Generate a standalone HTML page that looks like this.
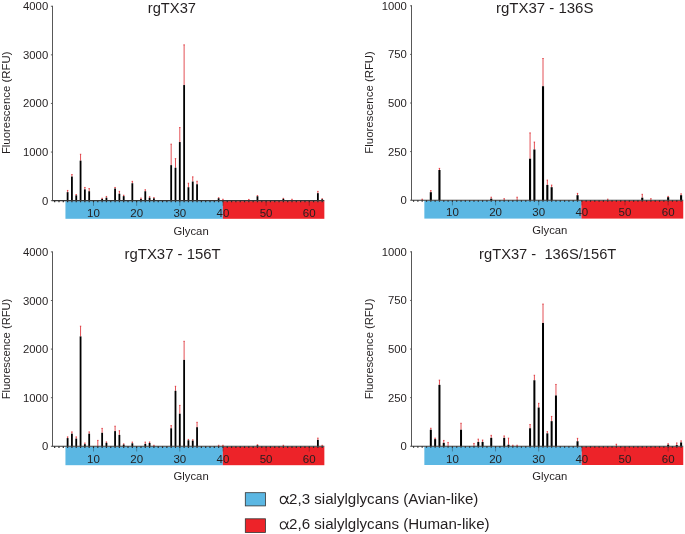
<!DOCTYPE html>
<html><head><meta charset="utf-8"><title>Glycan array</title>
<style>
html,body{margin:0;padding:0;background:#fff;}
svg{display:block;will-change:transform;}
text{font-family:"Liberation Sans",sans-serif;fill:#231f20;}
</style></head>
<body>
<svg width="685" height="534" viewBox="0 0 685 534">
<rect width="685" height="534" fill="#fff"/>
<rect x="65.45" y="201.15" width="157.40" height="17.65" fill="#5bb7e3"/>
<rect x="222.85" y="201.15" width="101.50" height="17.65" fill="#ed2329"/>
<path d="M67.61 192.15V190.45M66.91 190.45h1.4" stroke="#dc252b" stroke-width="0.8" fill="none"/>
<rect x="66.71" y="192.15" width="1.8" height="8.50" fill="#000"/>
<path d="M71.92 176.55V174.55M71.22 174.55h1.4" stroke="#dc252b" stroke-width="0.8" fill="none"/>
<rect x="71.02" y="176.55" width="1.8" height="24.10" fill="#000"/>
<path d="M76.24 195.35V194.55M75.54 194.55h1.4" stroke="#dc252b" stroke-width="0.8" fill="none"/>
<rect x="75.34" y="195.35" width="1.8" height="5.30" fill="#000"/>
<path d="M80.56 160.65V154.25M79.86 154.25h1.4" stroke="#dc252b" stroke-width="0.8" fill="none"/>
<rect x="79.66" y="160.65" width="1.8" height="40.00" fill="#000"/>
<path d="M84.87 189.35V187.45M84.17 187.45h1.4" stroke="#dc252b" stroke-width="0.8" fill="none"/>
<rect x="83.97" y="189.35" width="1.8" height="11.30" fill="#000"/>
<path d="M89.19 191.25V188.55M88.48 188.55h1.4" stroke="#dc252b" stroke-width="0.8" fill="none"/>
<rect x="88.28" y="191.25" width="1.8" height="9.40" fill="#000"/>
<path d="M102.13 198.95V198.25M101.43 198.25h1.4" stroke="#dc252b" stroke-width="0.8" fill="none"/>
<rect x="101.23" y="198.95" width="1.8" height="1.70" fill="#000"/>
<path d="M106.44 197.65V196.45M105.74 196.45h1.4" stroke="#dc252b" stroke-width="0.8" fill="none"/>
<rect x="105.54" y="197.65" width="1.8" height="3.00" fill="#000"/>
<path d="M115.08 188.55V187.45M114.38 187.45h1.4" stroke="#dc252b" stroke-width="0.8" fill="none"/>
<rect x="114.17" y="188.55" width="1.8" height="12.10" fill="#000"/>
<path d="M119.39 193.75V191.35M118.69 191.35h1.4" stroke="#dc252b" stroke-width="0.8" fill="none"/>
<rect x="118.49" y="193.75" width="1.8" height="6.90" fill="#000"/>
<path d="M123.70 196.15V195.25M123.00 195.25h1.4" stroke="#dc252b" stroke-width="0.8" fill="none"/>
<rect x="122.80" y="196.15" width="1.8" height="4.50" fill="#000"/>
<path d="M132.34 183.25V181.35M131.64 181.35h1.4" stroke="#dc252b" stroke-width="0.8" fill="none"/>
<rect x="131.44" y="183.25" width="1.8" height="17.40" fill="#000"/>
<path d="M140.97 199.05V198.05M140.27 198.05h1.4" stroke="#dc252b" stroke-width="0.8" fill="none"/>
<rect x="140.06" y="199.05" width="1.8" height="1.60" fill="#000"/>
<path d="M145.28 191.25V189.75M144.58 189.75h1.4" stroke="#dc252b" stroke-width="0.8" fill="none"/>
<rect x="144.38" y="191.25" width="1.8" height="9.40" fill="#000"/>
<path d="M149.59 197.75V196.75M148.90 196.75h1.4" stroke="#dc252b" stroke-width="0.8" fill="none"/>
<rect x="148.69" y="197.75" width="1.8" height="2.90" fill="#000"/>
<path d="M153.91 198.35V197.65M153.21 197.65h1.4" stroke="#dc252b" stroke-width="0.8" fill="none"/>
<rect x="153.01" y="198.35" width="1.8" height="2.30" fill="#000"/>
<path d="M171.17 165.15V144.15M170.47 144.15h1.4" stroke="#dc252b" stroke-width="0.8" fill="none"/>
<rect x="170.27" y="165.15" width="1.8" height="35.50" fill="#000"/>
<path d="M175.49 167.75V158.65M174.79 158.65h1.4" stroke="#dc252b" stroke-width="0.8" fill="none"/>
<rect x="174.59" y="167.75" width="1.8" height="32.90" fill="#000"/>
<path d="M179.80 142.05V127.55M179.10 127.55h1.4" stroke="#dc252b" stroke-width="0.8" fill="none"/>
<rect x="178.90" y="142.05" width="1.8" height="58.60" fill="#000"/>
<path d="M184.12 85.05V44.85M183.42 44.85h1.4" stroke="#dc252b" stroke-width="0.8" fill="none"/>
<rect x="183.22" y="85.05" width="1.8" height="115.60" fill="#000"/>
<path d="M188.43 187.25V183.25M187.73 183.25h1.4" stroke="#dc252b" stroke-width="0.8" fill="none"/>
<rect x="187.53" y="187.25" width="1.8" height="13.40" fill="#000"/>
<path d="M192.75 181.55V176.85M192.05 176.85h1.4" stroke="#dc252b" stroke-width="0.8" fill="none"/>
<rect x="191.84" y="181.55" width="1.8" height="19.10" fill="#000"/>
<path d="M197.06 184.25V181.25M196.36 181.25h1.4" stroke="#dc252b" stroke-width="0.8" fill="none"/>
<rect x="196.16" y="184.25" width="1.8" height="16.40" fill="#000"/>
<path d="M218.63 198.25V197.75M217.94 197.75h1.4" stroke="#dc252b" stroke-width="0.8" fill="none"/>
<rect x="217.73" y="198.25" width="1.8" height="2.40" fill="#000"/>
<path d="M222.95 200.65V199.25M222.25 199.25h1.4" stroke="#dc252b" stroke-width="0.8" fill="none"/>
<path d="M248.84 200.65V199.45M248.14 199.45h1.4" stroke="#dc252b" stroke-width="0.8" fill="none"/>
<path d="M257.47 196.25V195.65M256.77 195.65h1.4" stroke="#dc252b" stroke-width="0.8" fill="none"/>
<rect x="256.57" y="196.25" width="1.8" height="4.40" fill="#000"/>
<path d="M283.36 198.85V198.35M282.66 198.35h1.4" stroke="#dc252b" stroke-width="0.8" fill="none"/>
<rect x="282.46" y="198.85" width="1.8" height="1.80" fill="#000"/>
<path d="M291.99 200.65V199.25M291.29 199.25h1.4" stroke="#dc252b" stroke-width="0.8" fill="none"/>
<path d="M317.88 193.15V191.35M317.18 191.35h1.4" stroke="#dc252b" stroke-width="0.8" fill="none"/>
<rect x="316.98" y="193.15" width="1.8" height="7.50" fill="#000"/>
<path d="M322.20 199.25V198.75M321.50 198.75h1.4" stroke="#dc252b" stroke-width="0.8" fill="none"/>
<rect x="321.30" y="199.25" width="1.8" height="1.40" fill="#000"/>
<path d="M52.50 5.85V200.65" stroke="#454545" stroke-width="0.9" fill="none"/>
<path d="M52.20 200.65H324.35" stroke="#383838" stroke-width="1.1" fill="none"/>
<path d="M50.90 200.65H52.70M50.90 152.05H52.70M50.90 103.45H52.70M50.90 54.85H52.70M50.90 6.25H52.70" stroke="#505050" stroke-width="0.9" fill="none"/>
<path d="M54.66 200.65v1.6M58.98 200.65v1.6M63.30 200.65v1.6M67.61 200.65v1.6M71.92 200.65v1.6M76.24 200.65v1.6M80.56 200.65v1.6M84.87 200.65v1.6M89.19 200.65v1.6M93.50 200.65v1.6M97.81 200.65v1.6M102.13 200.65v1.6M106.44 200.65v1.6M110.76 200.65v1.6M115.08 200.65v1.6M119.39 200.65v1.6M123.70 200.65v1.6M128.02 200.65v1.6M132.34 200.65v1.6M136.65 200.65v1.6M140.97 200.65v1.6M145.28 200.65v1.6M149.59 200.65v1.6M153.91 200.65v1.6M158.23 200.65v1.6M162.54 200.65v1.6M166.86 200.65v1.6M171.17 200.65v1.6M175.49 200.65v1.6M179.80 200.65v1.6M184.12 200.65v1.6M188.43 200.65v1.6M192.75 200.65v1.6M197.06 200.65v1.6M201.38 200.65v1.6M205.69 200.65v1.6M210.00 200.65v1.6M214.32 200.65v1.6M218.63 200.65v1.6M222.95 200.65v1.6M227.27 200.65v1.6M231.58 200.65v1.6M235.90 200.65v1.6M240.21 200.65v1.6M244.53 200.65v1.6M248.84 200.65v1.6M253.16 200.65v1.6M257.47 200.65v1.6M261.79 200.65v1.6M266.10 200.65v1.6M270.42 200.65v1.6M274.73 200.65v1.6M279.05 200.65v1.6M283.36 200.65v1.6M287.68 200.65v1.6M291.99 200.65v1.6M296.31 200.65v1.6M300.62 200.65v1.6M304.94 200.65v1.6M309.25 200.65v1.6M313.57 200.65v1.6M317.88 200.65v1.6M322.20 200.65v1.6" stroke="#2a2a2a" stroke-width="1.2" fill="none"/>
<path d="M93.50 201.65v4.2M136.65 201.65v4.2M179.80 201.65v4.2M222.95 201.65v4.2M266.10 201.65v4.2M309.25 201.65v4.2" stroke="#1c1c1c" stroke-width="0.8" fill="none" opacity="0.45"/>
<text x="93.50" y="216.95" font-size="11.5" text-anchor="middle">10</text>
<text x="136.65" y="216.95" font-size="11.5" text-anchor="middle">20</text>
<text x="179.80" y="216.95" font-size="11.5" text-anchor="middle">30</text>
<text x="222.95" y="216.95" font-size="11.5" text-anchor="middle">40</text>
<text x="266.10" y="216.95" font-size="11.5" text-anchor="middle">50</text>
<text x="309.25" y="216.95" font-size="11.5" text-anchor="middle">60</text>
<text x="48.20" y="204.65" font-size="11.3" text-anchor="end">0</text>
<text x="48.20" y="156.05" font-size="11.3" text-anchor="end">1000</text>
<text x="48.20" y="107.45" font-size="11.3" text-anchor="end">2000</text>
<text x="48.20" y="58.85" font-size="11.3" text-anchor="end">3000</text>
<text x="48.20" y="10.25" font-size="11.3" text-anchor="end">4000</text>
<text transform="translate(9.60 102.85) rotate(-90)" font-size="11.4" text-anchor="middle">Fluorescence (RFU)</text>
<text x="191.10" y="234.85" font-size="11.3" text-anchor="middle">Glycan</text>
<text x="171.90" y="13.35" font-size="14.7" text-anchor="middle" xml:space="preserve">rgTX37</text>
<rect x="424.35" y="200.70" width="157.05" height="17.90" fill="#5bb7e3"/>
<rect x="581.40" y="200.70" width="101.85" height="17.90" fill="#ed2329"/>
<path d="M422.19 200.20V199.20M421.50 199.20h1.4" stroke="#dc252b" stroke-width="0.8" fill="none"/>
<path d="M430.82 192.20V190.60M430.12 190.60h1.4" stroke="#dc252b" stroke-width="0.8" fill="none"/>
<rect x="429.77" y="192.20" width="2.1" height="8.00" fill="#000"/>
<path d="M439.45 170.00V168.40M438.75 168.40h1.4" stroke="#dc252b" stroke-width="0.8" fill="none"/>
<rect x="438.40" y="170.00" width="2.1" height="30.20" fill="#000"/>
<path d="M491.23 198.70V197.20M490.53 197.20h1.4" stroke="#dc252b" stroke-width="0.8" fill="none"/>
<rect x="490.18" y="198.70" width="2.1" height="1.50" fill="#000"/>
<path d="M504.18 200.20V198.70M503.48 198.70h1.4" stroke="#dc252b" stroke-width="0.8" fill="none"/>
<path d="M517.12 200.20V197.20M516.42 197.20h1.4" stroke="#dc252b" stroke-width="0.8" fill="none"/>
<path d="M530.07 158.70V132.90M529.37 132.90h1.4" stroke="#dc252b" stroke-width="0.8" fill="none"/>
<rect x="529.02" y="158.70" width="2.1" height="41.50" fill="#000"/>
<path d="M534.38 149.50V142.10M533.68 142.10h1.4" stroke="#dc252b" stroke-width="0.8" fill="none"/>
<rect x="533.34" y="149.50" width="2.1" height="50.70" fill="#000"/>
<path d="M543.01 86.20V58.50M542.31 58.50h1.4" stroke="#dc252b" stroke-width="0.8" fill="none"/>
<rect x="541.97" y="86.20" width="2.1" height="114.00" fill="#000"/>
<path d="M547.33 184.90V180.10M546.63 180.10h1.4" stroke="#dc252b" stroke-width="0.8" fill="none"/>
<rect x="546.28" y="184.90" width="2.1" height="15.30" fill="#000"/>
<path d="M551.64 187.20V185.10M550.94 185.10h1.4" stroke="#dc252b" stroke-width="0.8" fill="none"/>
<rect x="550.60" y="187.20" width="2.1" height="13.00" fill="#000"/>
<path d="M577.53 195.20V193.40M576.83 193.40h1.4" stroke="#dc252b" stroke-width="0.8" fill="none"/>
<rect x="576.49" y="195.20" width="2.1" height="5.00" fill="#000"/>
<path d="M607.74 200.20V199.20M607.04 199.20h1.4" stroke="#dc252b" stroke-width="0.8" fill="none"/>
<path d="M642.26 197.70V194.30M641.56 194.30h1.4" stroke="#dc252b" stroke-width="0.8" fill="none"/>
<rect x="641.21" y="197.70" width="2.1" height="2.50" fill="#000"/>
<path d="M650.89 200.20V198.70M650.19 198.70h1.4" stroke="#dc252b" stroke-width="0.8" fill="none"/>
<path d="M668.15 197.20V196.40M667.45 196.40h1.4" stroke="#dc252b" stroke-width="0.8" fill="none"/>
<rect x="667.10" y="197.20" width="2.1" height="3.00" fill="#000"/>
<path d="M681.10 195.20V193.80M680.39 193.80h1.4" stroke="#dc252b" stroke-width="0.8" fill="none"/>
<rect x="680.05" y="195.20" width="2.1" height="5.00" fill="#000"/>
<path d="M411.50 5.40V200.20" stroke="#454545" stroke-width="0.9" fill="none"/>
<path d="M411.40 200.20H683.25" stroke="#383838" stroke-width="1.1" fill="none"/>
<path d="M410.10 200.20H411.90M410.10 151.60H411.90M410.10 103.00H411.90M410.10 54.40H411.90M410.10 5.80H411.90" stroke="#505050" stroke-width="0.9" fill="none"/>
<path d="M413.56 200.20v1.6M417.88 200.20v1.6M422.19 200.20v1.6M426.51 200.20v1.6M430.82 200.20v1.6M435.14 200.20v1.6M439.45 200.20v1.6M443.77 200.20v1.6M448.08 200.20v1.6M452.40 200.20v1.6M456.71 200.20v1.6M461.03 200.20v1.6M465.34 200.20v1.6M469.66 200.20v1.6M473.97 200.20v1.6M478.29 200.20v1.6M482.60 200.20v1.6M486.92 200.20v1.6M491.23 200.20v1.6M495.55 200.20v1.6M499.87 200.20v1.6M504.18 200.20v1.6M508.50 200.20v1.6M512.81 200.20v1.6M517.12 200.20v1.6M521.44 200.20v1.6M525.75 200.20v1.6M530.07 200.20v1.6M534.38 200.20v1.6M538.70 200.20v1.6M543.01 200.20v1.6M547.33 200.20v1.6M551.64 200.20v1.6M555.96 200.20v1.6M560.27 200.20v1.6M564.59 200.20v1.6M568.90 200.20v1.6M573.22 200.20v1.6M577.53 200.20v1.6M581.85 200.20v1.6M586.16 200.20v1.6M590.48 200.20v1.6M594.79 200.20v1.6M599.11 200.20v1.6M603.42 200.20v1.6M607.74 200.20v1.6M612.05 200.20v1.6M616.37 200.20v1.6M620.68 200.20v1.6M625.00 200.20v1.6M629.32 200.20v1.6M633.63 200.20v1.6M637.94 200.20v1.6M642.26 200.20v1.6M646.58 200.20v1.6M650.89 200.20v1.6M655.20 200.20v1.6M659.52 200.20v1.6M663.84 200.20v1.6M668.15 200.20v1.6M672.47 200.20v1.6M676.78 200.20v1.6M681.10 200.20v1.6" stroke="#2a2a2a" stroke-width="1.2" fill="none"/>
<path d="M452.40 201.20v4.2M495.55 201.20v4.2M538.70 201.20v4.2M581.85 201.20v4.2M625.00 201.20v4.2M668.15 201.20v4.2" stroke="#1c1c1c" stroke-width="0.8" fill="none" opacity="0.45"/>
<text x="452.40" y="216.40" font-size="11.5" text-anchor="middle">10</text>
<text x="495.55" y="216.40" font-size="11.5" text-anchor="middle">20</text>
<text x="538.70" y="216.40" font-size="11.5" text-anchor="middle">30</text>
<text x="581.85" y="216.40" font-size="11.5" text-anchor="middle">40</text>
<text x="625.00" y="216.40" font-size="11.5" text-anchor="middle">50</text>
<text x="668.15" y="216.40" font-size="11.5" text-anchor="middle">60</text>
<text x="406.90" y="204.20" font-size="11.3" text-anchor="end">0</text>
<text x="406.90" y="155.60" font-size="11.3" text-anchor="end">250</text>
<text x="406.90" y="107.00" font-size="11.3" text-anchor="end">500</text>
<text x="406.90" y="58.40" font-size="11.3" text-anchor="end">750</text>
<text x="406.90" y="9.80" font-size="11.3" text-anchor="end">1000</text>
<text transform="translate(372.90 102.40) rotate(-90)" font-size="11.4" text-anchor="middle">Fluorescence (RFU)</text>
<text x="549.80" y="234.40" font-size="11.3" text-anchor="middle">Glycan</text>
<text x="544.70" y="12.90" font-size="15.0" text-anchor="middle" xml:space="preserve">rgTX37 - 136S</text>
<rect x="65.45" y="446.80" width="157.40" height="18.40" fill="#5bb7e3"/>
<rect x="222.85" y="446.80" width="101.50" height="18.40" fill="#ed2329"/>
<path d="M67.61 438.10V436.90M66.91 436.90h1.4" stroke="#dc252b" stroke-width="0.8" fill="none"/>
<rect x="66.71" y="438.10" width="1.8" height="8.20" fill="#000"/>
<path d="M71.92 433.70V431.90M71.22 431.90h1.4" stroke="#dc252b" stroke-width="0.8" fill="none"/>
<rect x="71.02" y="433.70" width="1.8" height="12.60" fill="#000"/>
<path d="M76.24 438.60V436.90M75.54 436.90h1.4" stroke="#dc252b" stroke-width="0.8" fill="none"/>
<rect x="75.34" y="438.60" width="1.8" height="7.70" fill="#000"/>
<path d="M80.56 336.40V326.20M79.86 326.20h1.4" stroke="#dc252b" stroke-width="0.8" fill="none"/>
<rect x="79.66" y="336.40" width="1.8" height="109.90" fill="#000"/>
<path d="M84.87 444.20V443.00M84.17 443.00h1.4" stroke="#dc252b" stroke-width="0.8" fill="none"/>
<rect x="83.97" y="444.20" width="1.8" height="2.10" fill="#000"/>
<path d="M89.19 433.70V431.90M88.48 431.90h1.4" stroke="#dc252b" stroke-width="0.8" fill="none"/>
<rect x="88.28" y="433.70" width="1.8" height="12.60" fill="#000"/>
<path d="M97.81 446.30V440.40M97.11 440.40h1.4" stroke="#dc252b" stroke-width="0.8" fill="none"/>
<path d="M102.13 432.80V428.40M101.43 428.40h1.4" stroke="#dc252b" stroke-width="0.8" fill="none"/>
<rect x="101.23" y="432.80" width="1.8" height="13.50" fill="#000"/>
<path d="M106.44 442.80V441.90M105.74 441.90h1.4" stroke="#dc252b" stroke-width="0.8" fill="none"/>
<rect x="105.54" y="442.80" width="1.8" height="3.50" fill="#000"/>
<path d="M115.08 431.10V426.20M114.38 426.20h1.4" stroke="#dc252b" stroke-width="0.8" fill="none"/>
<rect x="114.17" y="431.10" width="1.8" height="15.20" fill="#000"/>
<path d="M119.39 434.90V430.70M118.69 430.70h1.4" stroke="#dc252b" stroke-width="0.8" fill="none"/>
<rect x="118.49" y="434.90" width="1.8" height="11.40" fill="#000"/>
<path d="M123.70 444.60V443.90M123.00 443.90h1.4" stroke="#dc252b" stroke-width="0.8" fill="none"/>
<rect x="122.80" y="444.60" width="1.8" height="1.70" fill="#000"/>
<path d="M132.34 443.30V442.10M131.64 442.10h1.4" stroke="#dc252b" stroke-width="0.8" fill="none"/>
<rect x="131.44" y="443.30" width="1.8" height="3.00" fill="#000"/>
<path d="M145.28 443.90V442.10M144.58 442.10h1.4" stroke="#dc252b" stroke-width="0.8" fill="none"/>
<rect x="144.38" y="443.90" width="1.8" height="2.40" fill="#000"/>
<path d="M149.59 443.00V442.00M148.90 442.00h1.4" stroke="#dc252b" stroke-width="0.8" fill="none"/>
<rect x="148.69" y="443.00" width="1.8" height="3.30" fill="#000"/>
<path d="M153.91 446.30V445.30M153.21 445.30h1.4" stroke="#dc252b" stroke-width="0.8" fill="none"/>
<path d="M171.17 428.30V425.60M170.47 425.60h1.4" stroke="#dc252b" stroke-width="0.8" fill="none"/>
<rect x="170.27" y="428.30" width="1.8" height="18.00" fill="#000"/>
<path d="M175.49 390.80V386.30M174.79 386.30h1.4" stroke="#dc252b" stroke-width="0.8" fill="none"/>
<rect x="174.59" y="390.80" width="1.8" height="55.50" fill="#000"/>
<path d="M179.80 413.70V405.40M179.10 405.40h1.4" stroke="#dc252b" stroke-width="0.8" fill="none"/>
<rect x="178.90" y="413.70" width="1.8" height="32.60" fill="#000"/>
<path d="M184.12 359.90V341.30M183.42 341.30h1.4" stroke="#dc252b" stroke-width="0.8" fill="none"/>
<rect x="183.22" y="359.90" width="1.8" height="86.40" fill="#000"/>
<path d="M188.43 440.30V439.40M187.73 439.40h1.4" stroke="#dc252b" stroke-width="0.8" fill="none"/>
<rect x="187.53" y="440.30" width="1.8" height="6.00" fill="#000"/>
<path d="M192.75 440.70V439.80M192.05 439.80h1.4" stroke="#dc252b" stroke-width="0.8" fill="none"/>
<rect x="191.84" y="440.70" width="1.8" height="5.60" fill="#000"/>
<path d="M197.06 427.20V422.30M196.36 422.30h1.4" stroke="#dc252b" stroke-width="0.8" fill="none"/>
<rect x="196.16" y="427.20" width="1.8" height="19.10" fill="#000"/>
<path d="M218.63 446.30V445.30M217.94 445.30h1.4" stroke="#dc252b" stroke-width="0.8" fill="none"/>
<path d="M222.95 446.30V445.30M222.25 445.30h1.4" stroke="#dc252b" stroke-width="0.8" fill="none"/>
<path d="M257.47 445.30V444.80M256.77 444.80h1.4" stroke="#dc252b" stroke-width="0.8" fill="none"/>
<rect x="256.57" y="445.30" width="1.8" height="1.00" fill="#000"/>
<path d="M283.36 446.30V445.30M282.66 445.30h1.4" stroke="#dc252b" stroke-width="0.8" fill="none"/>
<path d="M317.88 439.90V438.10M317.18 438.10h1.4" stroke="#dc252b" stroke-width="0.8" fill="none"/>
<rect x="316.98" y="439.90" width="1.8" height="6.40" fill="#000"/>
<path d="M322.20 446.30V445.30M321.50 445.30h1.4" stroke="#dc252b" stroke-width="0.8" fill="none"/>
<path d="M52.50 251.50V446.30" stroke="#454545" stroke-width="0.9" fill="none"/>
<path d="M52.20 446.30H324.35" stroke="#383838" stroke-width="1.1" fill="none"/>
<path d="M50.90 446.30H52.70M50.90 397.70H52.70M50.90 349.10H52.70M50.90 300.50H52.70M50.90 251.90H52.70" stroke="#505050" stroke-width="0.9" fill="none"/>
<path d="M54.66 446.30v1.6M58.98 446.30v1.6M63.30 446.30v1.6M67.61 446.30v1.6M71.92 446.30v1.6M76.24 446.30v1.6M80.56 446.30v1.6M84.87 446.30v1.6M89.19 446.30v1.6M93.50 446.30v1.6M97.81 446.30v1.6M102.13 446.30v1.6M106.44 446.30v1.6M110.76 446.30v1.6M115.08 446.30v1.6M119.39 446.30v1.6M123.70 446.30v1.6M128.02 446.30v1.6M132.34 446.30v1.6M136.65 446.30v1.6M140.97 446.30v1.6M145.28 446.30v1.6M149.59 446.30v1.6M153.91 446.30v1.6M158.23 446.30v1.6M162.54 446.30v1.6M166.86 446.30v1.6M171.17 446.30v1.6M175.49 446.30v1.6M179.80 446.30v1.6M184.12 446.30v1.6M188.43 446.30v1.6M192.75 446.30v1.6M197.06 446.30v1.6M201.38 446.30v1.6M205.69 446.30v1.6M210.00 446.30v1.6M214.32 446.30v1.6M218.63 446.30v1.6M222.95 446.30v1.6M227.27 446.30v1.6M231.58 446.30v1.6M235.90 446.30v1.6M240.21 446.30v1.6M244.53 446.30v1.6M248.84 446.30v1.6M253.16 446.30v1.6M257.47 446.30v1.6M261.79 446.30v1.6M266.10 446.30v1.6M270.42 446.30v1.6M274.73 446.30v1.6M279.05 446.30v1.6M283.36 446.30v1.6M287.68 446.30v1.6M291.99 446.30v1.6M296.31 446.30v1.6M300.62 446.30v1.6M304.94 446.30v1.6M309.25 446.30v1.6M313.57 446.30v1.6M317.88 446.30v1.6M322.20 446.30v1.6" stroke="#2a2a2a" stroke-width="1.2" fill="none"/>
<path d="M93.50 447.30v4.2M136.65 447.30v4.2M179.80 447.30v4.2M222.95 447.30v4.2M266.10 447.30v4.2M309.25 447.30v4.2" stroke="#1c1c1c" stroke-width="0.8" fill="none" opacity="0.45"/>
<text x="93.50" y="462.70" font-size="11.5" text-anchor="middle">10</text>
<text x="136.65" y="462.70" font-size="11.5" text-anchor="middle">20</text>
<text x="179.80" y="462.70" font-size="11.5" text-anchor="middle">30</text>
<text x="222.95" y="462.70" font-size="11.5" text-anchor="middle">40</text>
<text x="266.10" y="462.70" font-size="11.5" text-anchor="middle">50</text>
<text x="309.25" y="462.70" font-size="11.5" text-anchor="middle">60</text>
<text x="48.20" y="450.30" font-size="11.3" text-anchor="end">0</text>
<text x="48.20" y="401.70" font-size="11.3" text-anchor="end">1000</text>
<text x="48.20" y="353.10" font-size="11.3" text-anchor="end">2000</text>
<text x="48.20" y="304.50" font-size="11.3" text-anchor="end">3000</text>
<text x="48.20" y="255.90" font-size="11.3" text-anchor="end">4000</text>
<text transform="translate(9.60 349.00) rotate(-90)" font-size="11.2" text-anchor="middle">Fluorescence (RFU)</text>
<text x="191.10" y="479.70" font-size="11.3" text-anchor="middle">Glycan</text>
<text x="172.60" y="259.00" font-size="14.9" text-anchor="middle" xml:space="preserve">rgTX37 - 156T</text>
<rect x="424.35" y="446.75" width="157.40" height="18.25" fill="#5bb7e3"/>
<rect x="581.75" y="446.75" width="101.50" height="18.25" fill="#ed2329"/>
<path d="M430.82 429.75V428.25M430.12 428.25h1.4" stroke="#dc252b" stroke-width="0.8" fill="none"/>
<rect x="429.82" y="429.75" width="2.0" height="16.50" fill="#000"/>
<path d="M435.14 439.15V438.15M434.44 438.15h1.4" stroke="#dc252b" stroke-width="0.8" fill="none"/>
<rect x="434.14" y="439.15" width="2.0" height="7.10" fill="#000"/>
<path d="M439.45 384.85V380.15M438.75 380.15h1.4" stroke="#dc252b" stroke-width="0.8" fill="none"/>
<rect x="438.45" y="384.85" width="2.0" height="61.40" fill="#000"/>
<path d="M443.77 442.85V440.45M443.07 440.45h1.4" stroke="#dc252b" stroke-width="0.8" fill="none"/>
<rect x="442.77" y="442.85" width="2.0" height="3.40" fill="#000"/>
<path d="M448.08 446.25V442.45M447.38 442.45h1.4" stroke="#dc252b" stroke-width="0.8" fill="none"/>
<path d="M461.03 429.75V423.25M460.33 423.25h1.4" stroke="#dc252b" stroke-width="0.8" fill="none"/>
<rect x="460.03" y="429.75" width="2.0" height="16.50" fill="#000"/>
<path d="M473.97 446.25V443.45M473.27 443.45h1.4" stroke="#dc252b" stroke-width="0.8" fill="none"/>
<path d="M478.29 441.95V439.15M477.59 439.15h1.4" stroke="#dc252b" stroke-width="0.8" fill="none"/>
<rect x="477.29" y="441.95" width="2.0" height="4.30" fill="#000"/>
<path d="M482.60 441.95V440.05M481.90 440.05h1.4" stroke="#dc252b" stroke-width="0.8" fill="none"/>
<rect x="481.60" y="441.95" width="2.0" height="4.30" fill="#000"/>
<path d="M491.23 437.85V435.35M490.53 435.35h1.4" stroke="#dc252b" stroke-width="0.8" fill="none"/>
<rect x="490.23" y="437.85" width="2.0" height="8.40" fill="#000"/>
<path d="M504.18 437.85V435.95M503.48 435.95h1.4" stroke="#dc252b" stroke-width="0.8" fill="none"/>
<rect x="503.18" y="437.85" width="2.0" height="8.40" fill="#000"/>
<path d="M508.50 444.75V438.15M507.80 438.15h1.4" stroke="#dc252b" stroke-width="0.8" fill="none"/>
<rect x="507.50" y="444.75" width="2.0" height="1.50" fill="#000"/>
<path d="M512.81 446.25V445.25M512.11 445.25h1.4" stroke="#dc252b" stroke-width="0.8" fill="none"/>
<path d="M517.12 446.25V445.25M516.42 445.25h1.4" stroke="#dc252b" stroke-width="0.8" fill="none"/>
<path d="M530.07 428.25V424.55M529.37 424.55h1.4" stroke="#dc252b" stroke-width="0.8" fill="none"/>
<rect x="529.07" y="428.25" width="2.0" height="18.00" fill="#000"/>
<path d="M534.38 380.25V375.25M533.68 375.25h1.4" stroke="#dc252b" stroke-width="0.8" fill="none"/>
<rect x="533.38" y="380.25" width="2.0" height="66.00" fill="#000"/>
<path d="M538.70 407.55V403.35M538.00 403.35h1.4" stroke="#dc252b" stroke-width="0.8" fill="none"/>
<rect x="537.70" y="407.55" width="2.0" height="38.70" fill="#000"/>
<path d="M543.01 322.95V304.05M542.31 304.05h1.4" stroke="#dc252b" stroke-width="0.8" fill="none"/>
<rect x="542.01" y="322.95" width="2.0" height="123.30" fill="#000"/>
<path d="M547.33 433.35V431.65M546.63 431.65h1.4" stroke="#dc252b" stroke-width="0.8" fill="none"/>
<rect x="546.33" y="433.35" width="2.0" height="12.90" fill="#000"/>
<path d="M551.64 421.15V416.45M550.94 416.45h1.4" stroke="#dc252b" stroke-width="0.8" fill="none"/>
<rect x="550.64" y="421.15" width="2.0" height="25.10" fill="#000"/>
<path d="M555.96 395.45V384.45M555.26 384.45h1.4" stroke="#dc252b" stroke-width="0.8" fill="none"/>
<rect x="554.96" y="395.45" width="2.0" height="50.80" fill="#000"/>
<path d="M577.53 441.25V438.35M576.83 438.35h1.4" stroke="#dc252b" stroke-width="0.8" fill="none"/>
<rect x="576.53" y="441.25" width="2.0" height="5.00" fill="#000"/>
<path d="M616.37 446.25V444.25M615.67 444.25h1.4" stroke="#dc252b" stroke-width="0.8" fill="none"/>
<path d="M668.15 444.75V443.75M667.45 443.75h1.4" stroke="#dc252b" stroke-width="0.8" fill="none"/>
<rect x="667.15" y="444.75" width="2.0" height="1.50" fill="#000"/>
<path d="M676.78 445.05V442.95M676.08 442.95h1.4" stroke="#dc252b" stroke-width="0.8" fill="none"/>
<rect x="675.78" y="445.05" width="2.0" height="1.20" fill="#000"/>
<path d="M681.10 442.45V440.85M680.39 440.85h1.4" stroke="#dc252b" stroke-width="0.8" fill="none"/>
<rect x="680.10" y="442.45" width="2.0" height="3.80" fill="#000"/>
<path d="M411.50 251.45V446.25" stroke="#454545" stroke-width="0.9" fill="none"/>
<path d="M411.40 446.25H683.25" stroke="#383838" stroke-width="1.1" fill="none"/>
<path d="M410.10 446.25H411.90M410.10 397.65H411.90M410.10 349.05H411.90M410.10 300.45H411.90M410.10 251.85H411.90" stroke="#505050" stroke-width="0.9" fill="none"/>
<path d="M413.56 446.25v1.6M417.88 446.25v1.6M422.19 446.25v1.6M426.51 446.25v1.6M430.82 446.25v1.6M435.14 446.25v1.6M439.45 446.25v1.6M443.77 446.25v1.6M448.08 446.25v1.6M452.40 446.25v1.6M456.71 446.25v1.6M461.03 446.25v1.6M465.34 446.25v1.6M469.66 446.25v1.6M473.97 446.25v1.6M478.29 446.25v1.6M482.60 446.25v1.6M486.92 446.25v1.6M491.23 446.25v1.6M495.55 446.25v1.6M499.87 446.25v1.6M504.18 446.25v1.6M508.50 446.25v1.6M512.81 446.25v1.6M517.12 446.25v1.6M521.44 446.25v1.6M525.75 446.25v1.6M530.07 446.25v1.6M534.38 446.25v1.6M538.70 446.25v1.6M543.01 446.25v1.6M547.33 446.25v1.6M551.64 446.25v1.6M555.96 446.25v1.6M560.27 446.25v1.6M564.59 446.25v1.6M568.90 446.25v1.6M573.22 446.25v1.6M577.53 446.25v1.6M581.85 446.25v1.6M586.16 446.25v1.6M590.48 446.25v1.6M594.79 446.25v1.6M599.11 446.25v1.6M603.42 446.25v1.6M607.74 446.25v1.6M612.05 446.25v1.6M616.37 446.25v1.6M620.68 446.25v1.6M625.00 446.25v1.6M629.32 446.25v1.6M633.63 446.25v1.6M637.94 446.25v1.6M642.26 446.25v1.6M646.58 446.25v1.6M650.89 446.25v1.6M655.20 446.25v1.6M659.52 446.25v1.6M663.84 446.25v1.6M668.15 446.25v1.6M672.47 446.25v1.6M676.78 446.25v1.6M681.10 446.25v1.6" stroke="#2a2a2a" stroke-width="1.2" fill="none"/>
<path d="M452.40 447.25v4.2M495.55 447.25v4.2M538.70 447.25v4.2M581.85 447.25v4.2M625.00 447.25v4.2M668.15 447.25v4.2" stroke="#1c1c1c" stroke-width="0.8" fill="none" opacity="0.45"/>
<text x="452.40" y="462.65" font-size="11.5" text-anchor="middle">10</text>
<text x="495.55" y="462.65" font-size="11.5" text-anchor="middle">20</text>
<text x="538.70" y="462.65" font-size="11.5" text-anchor="middle">30</text>
<text x="581.85" y="462.65" font-size="11.5" text-anchor="middle">40</text>
<text x="625.00" y="462.65" font-size="11.5" text-anchor="middle">50</text>
<text x="668.15" y="462.65" font-size="11.5" text-anchor="middle">60</text>
<text x="406.90" y="450.25" font-size="11.3" text-anchor="end">0</text>
<text x="406.90" y="401.65" font-size="11.3" text-anchor="end">250</text>
<text x="406.90" y="353.05" font-size="11.3" text-anchor="end">500</text>
<text x="406.90" y="304.45" font-size="11.3" text-anchor="end">750</text>
<text x="406.90" y="255.85" font-size="11.3" text-anchor="end">1000</text>
<text transform="translate(372.90 348.95) rotate(-90)" font-size="11.2" text-anchor="middle">Fluorescence (RFU)</text>
<text x="549.80" y="479.65" font-size="11.3" text-anchor="middle">Glycan</text>
<text x="547.70" y="258.95" font-size="14.7" text-anchor="middle" xml:space="preserve">rgTX37 -  136S/156T</text>
<rect x="245.3" y="492.7" width="20.1" height="13.2" fill="#5bb7e3" stroke="#333" stroke-width="0.8"/>
<rect x="245.3" y="518.8" width="20.1" height="13.6" fill="#ed2329" stroke="#333" stroke-width="0.8"/>
<path transform="translate(279.7 503.6)" d="M8.3 -7.1C7.5 -4.1 6.3 -0.05 3.9 -0.05C1.7 -0.05 0.6 -1.8 0.6 -3.7C0.6 -5.8 1.9 -7.2 4.0 -7.2C6.5 -7.2 7.1 -3.6 7.7 -1.6C8.0 -0.6 8.4 -0.1 9.2 -0.2" fill="none" stroke="#231f20" stroke-width="1.15" stroke-linecap="round"/>
<text x="289.1" y="503.6" font-size="15.1">2,3 sialylglycans (Avian-like)</text>
<path transform="translate(279.7 528.9)" d="M8.3 -7.1C7.5 -4.1 6.3 -0.05 3.9 -0.05C1.7 -0.05 0.6 -1.8 0.6 -3.7C0.6 -5.8 1.9 -7.2 4.0 -7.2C6.5 -7.2 7.1 -3.6 7.7 -1.6C8.0 -0.6 8.4 -0.1 9.2 -0.2" fill="none" stroke="#231f20" stroke-width="1.15" stroke-linecap="round"/>
<text x="289.1" y="528.9" font-size="15.1">2,6 sialylglycans (Human-like)</text>
</svg>
</body></html>
